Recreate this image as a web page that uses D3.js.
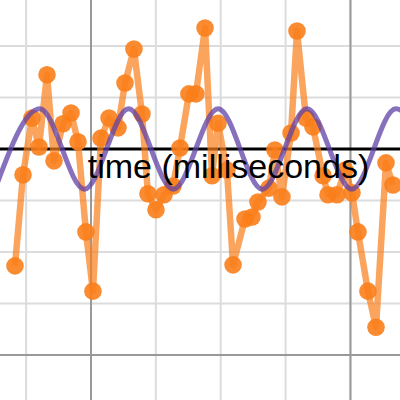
<!DOCTYPE html>
<html>
<head>
<meta charset="utf-8">
<script src="https://cdn.jsdelivr.net/npm/d3@7"></script>
<style>
  body { margin:0; background:white; }
  svg { display:block; }
  .label { font-family:"Liberation Sans", Arial, sans-serif; font-size:34px; fill:black; }
</style>
</head>
<body>
<svg width="400" height="400"></svg>
<script>
//measured samples (time in ms, value)
var times = [141.4,147.6,154.5,159.9,166.1,171.5,178.4,184.6,190.0,196.1,
             201.5,207.7,213.9,220.8,226.2,233.1,239.3,243.9,250.1,256.3,
             263.2,268.6,275.5,280.9,287.9,293.3,297.9,304.8,309.5,318.7,
             324.1,328.7,337.2,341.8,347.2,354.2,358.8,365.7,371.1,378.9,
             382.7,389.6,395.8,401.2,405.8,413.5,419.7,427.4,432.8]
var values = [-2.27,-0.50,0.60,0.04,1.44,-0.23,0.49,0.70,0.14,-1.61,
              -2.76,0.21,0.60,0.41,1.28,1.94,0.68,-0.87,-1.18,-0.89,
              -0.72,0.02,1.07,1.07,2.35,-0.52,0.50,-0.41,-2.25,-1.36,
              -1.32,-1.03,-0.76,-0.02,-0.93,0.31,2.29,0.60,0.43,-0.52,
              -0.89,-0.89,-0.41,-0.85,-1.61,-2.76,-3.46,-0.27,-0.70]

//peaks and troughs of the reference wave
var waveTimes = [126.0,160.5,195.0,229.0,263.5,298.0,332.0,366.5,401.0,435.0,469.5]
var waveValues = [-0.78,0.78,-0.78,0.78,-0.78,0.78,-0.78,0.78,-0.78,0.78,-0.78]

//grid
var minorX = d3.range(100,450,50)
var majorX = [200,400]
var minorY = d3.range(-5,4,1)
var majorY = [-4]

var screen = {width:400,height:400}

var xScale = d3.scaleLinear()
    .domain([129.85,438.2])
    .range([0,screen.width])
var yScale = d3.scaleLinear()
    .domain([-4.874,2.893])
    .range([screen.height,0])

var svg = d3.select("svg")

var drawGrid = function()
{
    var grid = svg.append("g").classed("grid",true)

    grid.selectAll(".minorx")
        .data(minorX)
        .enter()
        .append("line")
        .attr("x1",function(d){return xScale(d)})
        .attr("x2",function(d){return xScale(d)})
        .attr("y1",0)
        .attr("y2",screen.height)
        .attr("stroke","#dcdcdc")
        .attr("stroke-width",2)

    grid.selectAll(".minory")
        .data(minorY)
        .enter()
        .append("line")
        .attr("y1",function(d){return yScale(d)})
        .attr("y2",function(d){return yScale(d)})
        .attr("x1",0)
        .attr("x2",screen.width)
        .attr("stroke","#dcdcdc")
        .attr("stroke-width",2)

    grid.selectAll(".majorx")
        .data(majorX)
        .enter()
        .append("line")
        .attr("x1",function(d){return xScale(d)})
        .attr("x2",function(d){return xScale(d)})
        .attr("y1",0)
        .attr("y2",screen.height)
        .attr("stroke","#999999")
        .attr("stroke-width",2)

    grid.selectAll(".majory")
        .data(majorY)
        .enter()
        .append("line")
        .attr("y1",function(d){return yScale(d)})
        .attr("y2",function(d){return yScale(d)})
        .attr("x1",0)
        .attr("x2",screen.width)
        .attr("stroke","#999999")
        .attr("stroke-width",2)

    //x axis
    grid.append("line")
        .attr("x1",0)
        .attr("x2",screen.width)
        .attr("y1",yScale(0))
        .attr("y2",yScale(0))
        .attr("stroke","black")
        .attr("stroke-width",3)
}

var drawSamples = function()
{
    var points = times.map(function(t,i){return {t:t,v:values[i]}})

    var lineGenerator = d3.line()
        .x(function(p){return xScale(p.t)})
        .y(function(p){return yScale(p.v)})

    svg.append("path")
        .datum(points)
        .attr("d",lineGenerator)
        .attr("fill","none")
        .attr("stroke","#fa7e19")
        .attr("stroke-opacity",0.7)
        .attr("stroke-width",6.5)
        .attr("stroke-linejoin","round")

    svg.append("g")
        .selectAll("circle")
        .data(points)
        .enter()
        .append("circle")
        .attr("cx",function(p){return xScale(p.t)})
        .attr("cy",function(p){return yScale(p.v)})
        .attr("r",8.8)
        .attr("fill","#fa7e19")
        .attr("fill-opacity",0.9)
}

var drawWave = function()
{
    var peaks = waveTimes.map(function(t,i){return {t:t,v:waveValues[i]}})

    var waveGenerator = d3.line()
        .x(function(p){return xScale(p.t)})
        .y(function(p){return yScale(p.v)})
        .curve(d3.curveMonotoneX)

    svg.append("path")
        .datum(peaks)
        .attr("d",waveGenerator)
        .attr("fill","none")
        .attr("stroke","#6042a6")
        .attr("stroke-opacity",0.75)
        .attr("stroke-width",5)
}

var drawLabel = function()
{
    svg.append("text")
        .classed("label",true)
        .text("time (milliseconds)")
        .attr("text-anchor","middle")
        .attr("x",228.5)
        .attr("y",yScale(0)+29)
}

drawGrid()
drawSamples()
drawWave()
drawLabel()
</script>
</body>
</html>
